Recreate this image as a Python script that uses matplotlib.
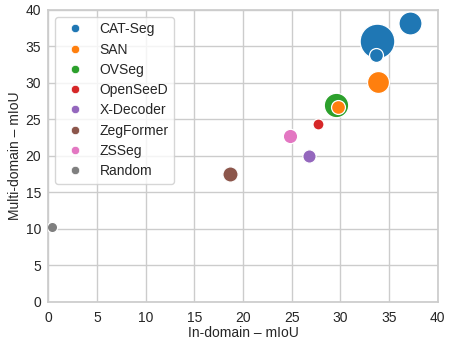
import matplotlib
matplotlib.use("Agg")
import seaborn as sns
from matplotlib import pyplot as plt
from matplotlib.lines import Line2D

# one entry per model checkpoint; size of marker ~ model size
methods = ["CAT-Seg", "CAT-Seg", "CAT-Seg", "SAN", "SAN", "OVSeg",
           "OpenSeeD", "X-Decoder", "ZegFormer", "ZSSeg", "Random"]
in_domain = [33.8, 33.7, 37.1, 33.9, 29.8, 29.5, 27.7, 26.8, 18.7, 24.8, 0.4]
multi_domain = [35.7, 33.8, 38.2, 30.1, 26.7, 26.9, 24.3, 20.0, 17.5, 22.7, 10.3]
sizes = [625, 100, 275, 250, 100, 310, 63, 92, 120, 107, 55]

legend_order = ["CAT-Seg", "SAN", "OVSeg", "OpenSeeD", "X-Decoder",
                "ZegFormer", "ZSSeg", "Random"]
colors = {
    "CAT-Seg": "tab:blue",
    "SAN": "tab:orange",
    "OVSeg": "tab:green",
    "OpenSeeD": "tab:red",
    "X-Decoder": "tab:purple",
    "ZegFormer": "tab:brown",
    "ZSSeg": "tab:pink",
    "Random": "tab:gray",
}

sns.set_theme(style="whitegrid")
plt.rcParams["font.family"] = ["Liberation Sans", "DejaVu Sans"]

fig = plt.figure(figsize=(4.5, 3.39), dpi=100)
ax = fig.add_axes([0.107, 0.110, 0.866, 0.861])

# big markers first so the small ones stay visible on top
order = sorted(range(len(methods)), key=lambda i: -sizes[i])
for z, i in enumerate(order):
    ax.scatter(in_domain[i], multi_domain[i], s=sizes[i],
               color=colors[methods[i]], edgecolor="white",
               linewidth=0.9, zorder=3 + z)

handles = [Line2D([], [], marker="o", linestyle="", markersize=6,
                  markerfacecolor=colors[m], markeredgecolor="white",
                  markeredgewidth=0.5, label=m) for m in legend_order]
ax.legend(handles=handles, loc="upper left", fontsize=10,
          handletextpad=0.8, borderpad=0.4, labelspacing=0.45)

ax.set_xlim(0, 40)
ax.set_ylim(0, 40)
ax.set_xticks(range(0, 41, 5))
ax.set_yticks(range(0, 41, 5))
ax.tick_params(labelsize=10, length=0)
ax.tick_params(axis="x", pad=7)
ax.tick_params(axis="y", pad=5)
ax.set_xlabel("In-domain – mIoU", fontsize=10, labelpad=0.5)
ax.set_ylabel("Multi-domain – mIoU", fontsize=10, labelpad=2.4)

fig.savefig("out.png", dpi=100)
